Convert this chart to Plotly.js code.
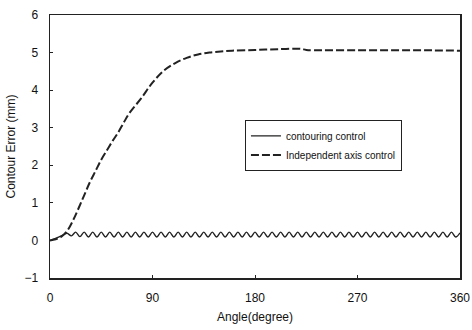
<!DOCTYPE html>
<html><head><meta charset="utf-8">
<script src="https://cdn.plot.ly/plotly-3.0.1.min.js"></script>
<style>html,body{margin:0;padding:0;background:#fff;}#chart{width:472px;height:330px;}</style>
</head><body><div id="chart"></div>
<script>
// Independent axis control (dash-dot)
var indepAngle = [0, 5, 10, 15, 20, 25, 30, 35, 40, 45, 50, 55, 60, 65, 70, 80, 90, 100, 110, 120, 130, 140, 150, 160, 180, 200, 220, 225, 240, 270, 300, 330, 360];
var indepErr   = [0, 0.03, 0.1, 0.25, 0.52, 0.85, 1.2, 1.55, 1.85, 2.15, 2.4, 2.65, 2.88, 3.15, 3.4, 3.78, 4.2, 4.52, 4.72, 4.86, 4.95, 5.0, 5.03, 5.05, 5.07, 5.09, 5.1, 5.07, 5.06, 5.06, 5.06, 5.06, 5.05];
// Contouring control (solid), sampled every 3.75 degrees
var contourStep = 3.75;
var contourErr = [0, 0.04, 0.09, 0.14, 0.19, 0.12, 0.22, 0.1, 0.22, 0.09, 0.22, 0.09, 0.22, 0.09, 0.22, 0.09,
  0.22, 0.09, 0.22, 0.09, 0.22, 0.09, 0.22, 0.09, 0.22, 0.09, 0.22, 0.09, 0.22, 0.09, 0.22, 0.09,
  0.22, 0.09, 0.22, 0.09, 0.22, 0.09, 0.22, 0.09, 0.22, 0.09, 0.22, 0.09, 0.22, 0.09, 0.22, 0.09,
  0.22, 0.09, 0.22, 0.09, 0.22, 0.09, 0.22, 0.09, 0.22, 0.09, 0.22, 0.09, 0.22, 0.09, 0.22, 0.09,
  0.22, 0.09, 0.22, 0.09, 0.22, 0.09, 0.22, 0.09, 0.22, 0.09, 0.22, 0.09, 0.22, 0.09, 0.22, 0.09,
  0.22, 0.09, 0.22, 0.09, 0.22, 0.09, 0.22, 0.09, 0.22, 0.09, 0.22, 0.09, 0.22, 0.09, 0.22, 0.09, 0.2];
var xTicks = [0, 90, 180, 270, 360];
var yTicks = [-1, 0, 1, 2, 3, 4, 5, 6];

var fam = 'Liberation Sans, Arial, sans-serif';
var traces = [
  {x0: 0, dx: contourStep, y: contourErr, type: 'scatter', mode: 'lines', name: 'contouring control',
   line: {color: '#222', width: 1.4, shape: 'spline', smoothing: 1}},
  {x: indepAngle, y: indepErr, type: 'scatter', mode: 'lines', name: 'Independent axis control',
   line: {color: '#222', width: 2, dash: '8px,3px', shape: 'spline'}}
];
var layout = {
  width: 472, height: 330,
  margin: {l: 50, r: 12, t: 15, b: 52},
  paper_bgcolor: '#fff', plot_bgcolor: '#fff',
  font: {family: fam, size: 12, color: '#111'},
  showlegend: true,
  legend: {x: 0.475, y: 0.6, xanchor: 'left', yanchor: 'top', bgcolor: '#fff',
    bordercolor: '#222', borderwidth: 1.2, font: {size: 10, family: fam, color: '#111'},
    tracegroupgap: 0, itemwidth: 30},
  xaxis: {range: [0, 360], tickvals: xTicks, ticks: 'inside', ticklen: 3, tickcolor: '#222',
    showline: true, linecolor: '#222', linewidth: 1.5, mirror: true, showgrid: false, zeroline: false,
    ticklabelstandoff: 8,
    tickfont: {size: 12}, title: {text: 'Angle(degree)', font: {size: 12}, standoff: 8}},
  yaxis: {range: [-1, 6], tickvals: yTicks, ticks: 'inside', ticklen: 3, tickcolor: '#222',
    showline: true, linecolor: '#222', linewidth: 1.5, mirror: true, showgrid: false, zeroline: false,
    ticklabelstandoff: 8,
    tickfont: {size: 12}, title: {text: 'Contour Error (mm)', font: {size: 12}, standoff: 6}}
};
Plotly.newPlot('chart', traces, layout, {displayModeBar: false, staticPlot: true});
</script></body></html>
